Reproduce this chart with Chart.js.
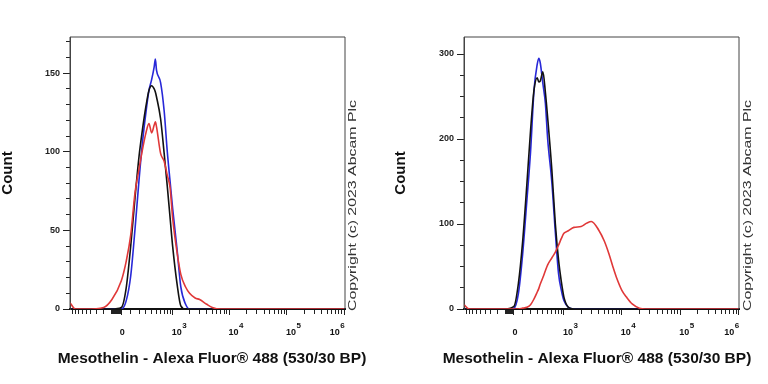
<!DOCTYPE html>
<html>
<head>
<meta charset="utf-8">
<script src="https://cdn.jsdelivr.net/npm/chart.js@4.4.1/dist/chart.umd.min.js"></script>
<style>
  body { margin: 0; background: #fff; }
  #wrap { position: relative; width: 768px; height: 384px; }
  canvas { position: absolute; top: 0; }
  #left { left: 0; }
  #right { left: 384px; }
</style>
</head>
<body>
<div id="wrap">
  <canvas id="left" width="384" height="384"></canvas>
  <canvas id="right" width="384" height="384"></canvas>
</div>
<script>
// Texts
const xTitle = 'Mesothelin - Alexa Fluor\u00AE 488 (530/30 BP)';
const yTitle = 'Count';
const copyright = 'Copyright (c) 2023 Abcam Plc';
const xLabelValues = [0, 1e3, 1e4, 1e5, 1e6];

// Left histogram: fluorescence intensity bins and counts
const leftBins  = [-1000, -800, -500, -200, -100, 0, 50, 100, 150, 200, 250, 300, 350, 400, 450, 475, 500, 600, 700, 800, 900, 1000, 1200, 1400, 1700, 2000, 2500, 3000, 4000, 5000, 7000, 10000, 100000, 1000000];
const leftBlue  = [0, 0, 0, 0, 0, 0, 5, 21, 51, 82, 107, 125, 139, 146, 154, 159, 152, 144, 126, 100, 81, 64, 38, 14, 3, 0, 0, 0, 0, 0, 0, 0, 0, 0];
const leftBlack = [0, 0, 0, 0, 0, 1, 13, 40, 71, 97, 115, 129, 139, 142, 140, 138, 135, 121, 99, 78, 58, 40, 16, 2, 0, 0, 0, 0, 0, 0, 0, 0, 0, 0];
const leftRed   = [4, 0, 0, 1, 6, 18, 30, 47, 74, 89, 102, 112, 118, 112, 117, 119, 116, 99, 94, 85, 77, 58, 36, 22, 14, 10, 7, 6, 3, 1, 0, 0, 0, 0];

// Right histogram
const rightBins  = [-1000, -800, -200, -100, 0, 50, 100, 150, 200, 250, 300, 325, 350, 400, 450, 500, 600, 700, 800, 900, 1000, 1200, 1500, 2000, 2500, 3000, 4000, 5000, 6000, 7000, 8000, 10000, 12000, 15000, 20000, 25000, 100000, 1000000];
const rightBlue  = [0, 0, 0, 0, 1, 18, 65, 126, 185, 258, 288, 295, 290, 265, 242, 200, 150, 90, 42, 22, 10, 2, 0, 0, 0, 0, 0, 0, 0, 0, 0, 0, 0, 0, 0, 0, 0, 0];
const rightBlack = [0, 0, 0, 0, 3, 30, 80, 145, 210, 258, 272, 267, 268, 279, 255, 225, 165, 100, 58, 32, 14, 2, 0, 0, 0, 0, 0, 0, 0, 0, 0, 0, 0, 0, 0, 0, 0, 0];
const rightRed   = [5, 0, 0, 0, 0, 0, 1, 2, 5, 12, 20, 24, 29, 37, 45, 52, 60, 67, 75, 83, 89, 92, 96, 97, 101, 103, 93, 80, 65, 50, 38, 22, 14, 6, 1, 0, 0, 0];

const BLUE = '#2828d8', BLACK = '#111111', RED = '#e03838';
const FONT = "'Liberation Sans', Arial, sans-serif";
Chart.defaults.font.family = FONT;

// biexponential display transform (decades)
function makeT(w) {
  const off = Math.log10(w / 2);
  return v => off + Math.asinh(v / w) / Math.LN10;
}

// minor tick values for the x axis
const minorTicks = [];
for (let k = 1; k <= 9; k++) { minorTicks.push(-k * 100); minorTicks.push(-k * 10); minorTicks.push(k * 100); }
[1e3, 1e4, 1e5].forEach(d => { for (let k = 2; k <= 9; k++) minorTicks.push(k * d); });

function makeChart(id, o) {
  const T = makeT(o.w);
  const pts = ys => o.bins.map((v, i) => ({ x: T(v), y: ys[i] }));
  const line = (ys, color) => ({
    data: pts(ys), borderColor: color, borderWidth: 1.6, pointRadius: 0,
    cubicInterpolationMode: 'monotone', fill: false
  });

  const decor = {
    id: 'decor',
    afterDraw(chart) {
      const { ctx, chartArea: a } = chart;
      const xs = chart.scales.x;
      ctx.save();
      // frame
      ctx.strokeStyle = '#444'; ctx.lineWidth = 1;
      ctx.beginPath();
      ctx.moveTo(a.left, a.bottom); ctx.lineTo(a.left, a.top);
      ctx.lineTo(a.right, a.top); ctx.lineTo(a.right, a.bottom);
      ctx.stroke();
      // x tick labels
      ctx.fillStyle = '#111'; ctx.textBaseline = 'alphabetic';
      xLabelValues.forEach((v, i) => {
        const px = xs.getPixelForValue(T(v));
        ctx.font = 'bold 9px ' + FONT;
        if (v === 0) { ctx.textAlign = 'center'; ctx.fillText('0', px + 1, 335); return; }
        const exp = String(Math.round(Math.log10(v)));
        const wd = ctx.measureText('10').width;
        ctx.font = 'bold 8px ' + FONT;
        const we = ctx.measureText(exp).width;
        // last label is kept inside the frame
        const x0 = i === xLabelValues.length - 1 ? px - wd - we : px - 1;
        ctx.textAlign = 'left';
        ctx.fillText(exp, x0 + wd + 0.5, 328);
        ctx.font = 'bold 9px ' + FONT;
        ctx.fillText('10', x0, 335);
      });
      // axis titles
      ctx.font = 'bold 15.5px ' + FONT; ctx.textAlign = 'center'; ctx.textBaseline = 'middle';
      ctx.fillText(xTitle, o.titleX, 359);
      ctx.save();
      ctx.translate(o.countX, 173); ctx.rotate(-Math.PI / 2);
      ctx.font = 'bold 15px ' + FONT;
      ctx.fillText(yTitle, 0, 0);
      ctx.restore();
      // copyright
      ctx.save();
      ctx.translate(o.copyX, 311); ctx.rotate(-Math.PI / 2);
      ctx.font = '10px ' + FONT; ctx.textAlign = 'left'; ctx.fillStyle = '#333';
      const cw = ctx.measureText(copyright).width;
      ctx.scale(211 / cw, 1);
      ctx.fillText(copyright, 0, 0);
      ctx.restore();
      ctx.restore();
    }
  };

  new Chart(document.getElementById(id), {
    type: 'line',
    data: { datasets: [line(o.red, RED), line(o.black, BLACK), line(o.blue, BLUE)] },
    options: {
      responsive: false, animation: false, events: [],
      layout: { padding: { top: 37, right: o.padRight, left: 0, bottom: 0 } },
      plugins: { legend: { display: false }, tooltip: { enabled: false } },
      scales: {
        x: {
          type: 'linear', min: T(-1000), max: T(o.xMax),
          afterFit: s => { s.height = 75; },
          afterBuildTicks: s => {
            const t = minorTicks.map(v => ({ value: T(v) }))
              .concat(xLabelValues.map(v => ({ value: T(v), lab: true })));
            t.sort((p, q) => p.value - q.value);
            s.ticks = t;
          },
          ticks: { display: false, autoSkip: false },
          grid: {
            drawOnChartArea: false, tickLength: 6, tickColor: '#222', tickWidth: 1,
            tickBorderDash: c => (c.tick && c.tick.lab) ? [] : [4, 10]
          },
          border: { color: '#111', width: 2 }
        },
        y: {
          min: 0, max: o.yMax,
          afterFit: s => { s.width = o.yWidth; },
          ticks: {
            stepSize: o.yStep, includeBounds: false, autoSkip: false, padding: 3,
            color: '#222', font: { size: 9, weight: 'bold' },
            callback: v => v % o.yMajor === 0 ? v : ''
          },
          grid: {
            drawOnChartArea: false, tickLength: 7, tickColor: '#222', tickWidth: 1,
            tickBorderDash: c => (c.tick && c.tick.value % o.yMajor === 0) ? [] : [0, 3, 4]
          },
          border: { color: '#444', width: 1 }
        }
      }
    },
    plugins: [decor]
  });
}

makeChart('left', {
  bins: leftBins, blue: leftBlue, black: leftBlack, red: leftRed,
  w: 259, xMax: 1.03e6, yMax: 173, yStep: 10, yMajor: 50,
  padRight: 39, yWidth: 70, titleX: 212, countX: 7.5, copyX: 353
});
makeChart('right', {
  bins: rightBins, blue: rightBlue, black: rightBlack, red: rightRed,
  w: 285, xMax: 1.01e6, yMax: 320, yStep: 25, yMajor: 100,
  padRight: 29, yWidth: 80, titleX: 213, countX: 17, copyX: 364
});
</script>
</body>
</html>
